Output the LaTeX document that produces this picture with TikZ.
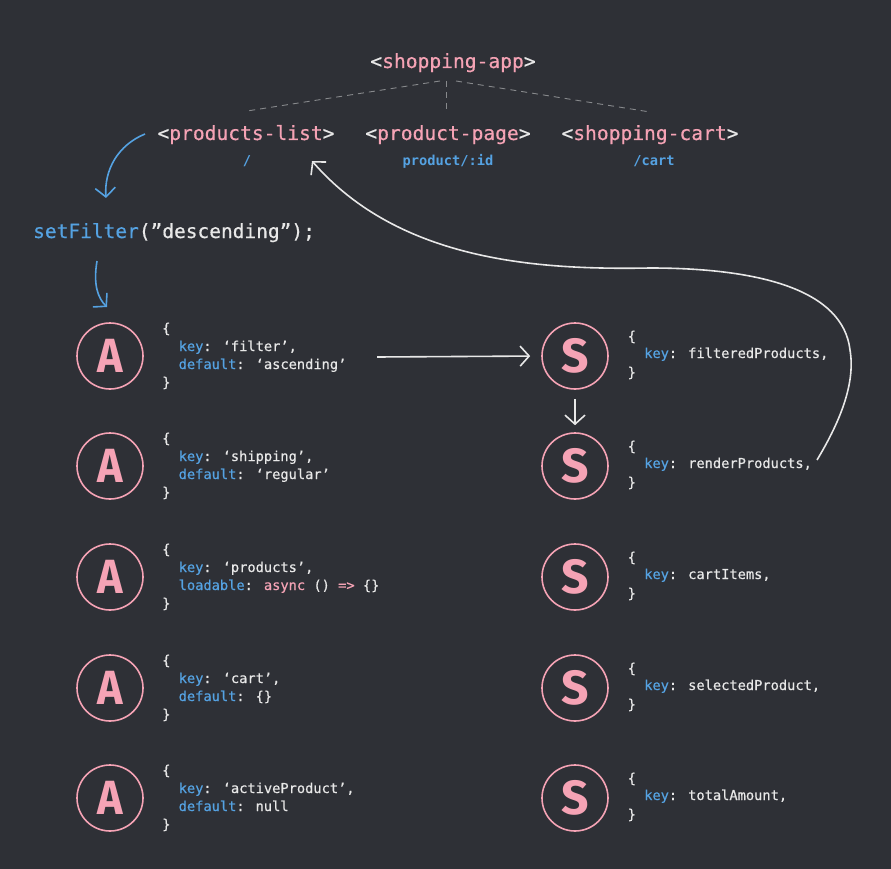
\documentclass[tikz,border=0pt]{standalone}
\usepackage{fontspec}
\setmonofont{DejaVu Sans Mono}
\newfontfamily\codefont{DejaVu Sans Mono}[FakeBold=0.5]
\newfontfamily\letterfont{Fira Sans}
\usetikzlibrary{arrows.meta}
\definecolor{bg}{RGB}{46,48,54}
\definecolor{pk}{RGB}{245,163,181}
\definecolor{bl}{RGB}{85,162,226}
\definecolor{wt}{RGB}{232,232,232}
\definecolor{dg}{RGB}{135,137,140}
\newcommand\ablock[4]{%
  \node[code] (#1o) at (162,{#2-23}) {\{};
  \node[code] (#1k) at (178.5,{#2-5}) {\textcolor{bl}{key}: #3};
  \node[code] (#1d) at (178.5,{#2+13}) {#4};
  \node[code] (#1c) at (162,{#2+31}) {\}};}
\newcommand\sblock[3]{%
  \node[code] (#1o) at (627.5,{#2-15}) {\{};
  \node[code] (#1k) at (644,{#2+2}) {\textcolor{bl}{key}: #3};
  \node[code] (#1c) at (627.5,{#2+21}) {\}};}
\begin{document}
\begin{tikzpicture}[x=1pt,y=-1pt,
  tag/.style={font=\codefont\fontsize{19.6}{22}\selectfont, text=pk, inner sep=0pt, anchor=base},
  route/.style={font=\ttfamily\bfseries\fontsize{13.7}{16}\selectfont, text=bl, inner sep=0pt, anchor=base},
  big/.style={font=\codefont\fontsize{19.5}{22}\selectfont, text=wt, inner sep=0pt, anchor=base west},
  code/.style={font=\codefont\fontsize{13.7}{16}\selectfont, text=wt, inner sep=0pt, anchor=base west},
  circ/.style={circle, draw=pk, line width=1.6pt, minimum size=66pt, inner sep=0pt, text=pk, font=\letterfont\bfseries\fontsize{48}{50}\selectfont},
  dashline/.style={draw=dg, line width=0.9pt, dash pattern=on 6pt off 5pt},
  wa/.style={draw=wt, line width=1.6pt, -{Straight Barb[length=9pt,width=20pt]}},
  ba/.style={draw=bl, line width=1.6pt, -{Straight Barb[length=9pt,width=20pt]}}]
\fill[bg] (0,0) rectangle (891,869);
\useasboundingbox (0,0) rectangle (891,869);

% component tree
\node[tag] (app) at (453,68) {\textcolor{wt}{<}shopping-app\textcolor{wt}{>}};
\node[tag] (plist) at (246,140) {\textcolor{wt}{<}products-list\textcolor{wt}{>}};
\node[tag] (ppage) at (448,140) {\textcolor{wt}{<}product-page\textcolor{wt}{>}};
\node[tag] (pcart) at (650,140) {\textcolor{wt}{<}shopping-cart\textcolor{wt}{>}};
\node[route] (r1) at (247,166) {/};
\node[route] (r2) at (448,166) {product/:id};
\node[route] (r3) at (654,166) {/cart};

\coordinate (appL) at (440,81);
\coordinate (appM) at (446,81);
\coordinate (appR) at (456,81);
\coordinate (plistT) at (247,111);
\coordinate (ppageT) at (446,112);
\coordinate (pcartT) at (650,112);
\draw[dashline] (appL) -- (plistT);
\draw[dashline] (appM) -- (ppageT);
\draw[dashline] (appR) -- (pcartT);

% setFilter
\node[big] (sf) at (33,238) {\textcolor{bl}{setFilter}(”descending”);};
\coordinate (b1s) at (145,134);
\coordinate (b1e) at (106,198);
\draw[ba] (b1s) .. controls (118,145) and (104,170) .. (b1e);
\coordinate (b2s) at (97,261);
\coordinate (b2e) at (107,307);
\draw[ba] (b2s) .. controls (93,285) and (98,298) .. (b2e);

% atoms and selectors
\foreach \i/\y in {1/356,2/466,3/577,4/688,5/798} {
  \node[circ] (a\i) at (110,\y) {\scalebox{0.9}[1]{A}};
  \node[circ] (s\i) at (575,\y) {S};
}
\ablock{a1}{356}{‘filter’,}{\textcolor{bl}{default}: ‘ascending’}
\ablock{a2}{466}{‘shipping’,}{\textcolor{bl}{default}: ‘regular’}
\ablock{a3}{577}{‘products’,}{\textcolor{bl}{loadable}: \textcolor{pk}{async} () \textcolor{pk}{=>} \{\}}
\ablock{a4}{688}{‘cart’,}{\textcolor{bl}{default}: \{\}}
\ablock{a5}{798}{‘activeProduct’,}{\textcolor{bl}{default}: null}
\sblock{s1}{356}{filteredProducts,}
\sblock{s2}{466}{renderProducts,}
\sblock{s3}{577}{cartItems,}
\sblock{s4}{688}{selectedProduct,}
\sblock{s5}{798}{totalAmount,}

% white arrows
\coordinate (h1) at (377,357);
\draw[wa, shorten >=11pt] (h1) -- (s1.west);
\draw[wa, shorten <=9pt, shorten >=7pt] (s1) -- (s2);
\coordinate (rpEnd) at (817,460);
\coordinate (plTip) at (312,161);
\draw[wa] (rpEnd) .. controls (838,425) and (856,385) .. (850,350)
  .. controls (843,290) and (760,268) .. (650,268)
  .. controls (540,270) and (400,262) .. (plTip);
\end{tikzpicture}
\end{document}
